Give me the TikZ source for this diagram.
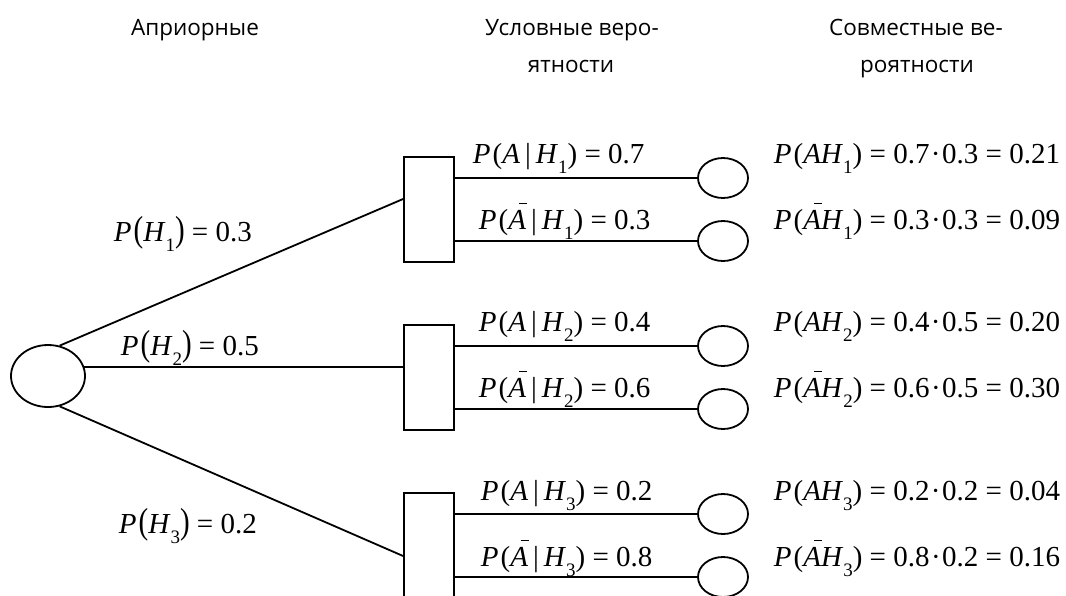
\documentclass[tikz,border=0pt]{standalone}
\usepackage{fontspec}
\usepackage{graphicx}
\setmainfont{Liberation Serif}
\newfontfamily\hdrfont{Open Sans}
\usetikzlibrary{shapes.geometric}
\newcommand{\Pp}{\textit{P}\kern2pt}
\newcommand{\bA}{\makebox[0pt][l]{\kern0.36em\raisebox{0.86em}{\rule{0.3em}{0.045em}}}\textit{A}}
\newcommand{\lsub}[1]{\raisebox{-0.36em}{\fontsize{19pt}{19pt}\selectfont #1}}
\newcommand{\tlp}{\scalebox{1}[1.25]{(}}
\newcommand{\trp}{\scalebox{1}[1.25]{)}}
\newcommand{\vb}{\kern5pt|\kern5pt}
\newcommand{\md}{\kern1.5pt·\kern1.5pt}
\tikzset{
  rootnode/.style={ellipse, draw, minimum width=74pt, minimum height=62pt, inner sep=0pt},
  boxnode/.style={rectangle, draw, minimum width=50pt, minimum height=105pt, inner sep=0pt},
  leafnode/.style={ellipse, draw, minimum width=50pt, minimum height=40pt, inner sep=0pt},
  lbl/.style={anchor=base west, inner sep=0pt, font=\fontsize{29pt}{32pt}\selectfont},
  hdr/.style={anchor=base, inner sep=0pt, font=\hdrfont\fontsize{22.5pt}{26pt}\selectfont}
}
\begin{document}
\begin{tikzpicture}[x=1pt,y=-1pt,line width=1.8pt]
\useasboundingbox (0,0) rectangle (1066,595);
\clip (0,0) rectangle (1066,595);
% headers
\node[hdr] (h1) at (195,35) {Априорные};
\node[hdr] (h2a) at (572,35) {Условные веро-};
\node[hdr] (h2b) at (571,72) {ятности};
\node[hdr] (h3a) at (916,35) {Совместные ве-};
\node[hdr] (h3b) at (917,72) {роятности};
% nodes
\node[rootnode] (r) at (48,376) {};
\node[boxnode] (b1) at (429,209.5) {};
\node[boxnode] (b2) at (429,377.5) {};
\node[boxnode] (b3) at (429,545.5) {};
\node[leafnode] (l1) at (723,178) {};
\node[leafnode] (l2) at (723,241) {};
\node[leafnode] (l3) at (723,346) {};
\node[leafnode] (l4) at (723,409) {};
\node[leafnode] (l5) at (723,514) {};
\node[leafnode] (l6) at (723,577) {};
% edges
\draw (r.69) -- ([yshift=10.5pt]b1.west);
\draw (r.14) -- (r.14 -| b2.west);
\draw (r.-69) -- ([yshift=-10.5pt]b3.west);
\draw (b1.east |- l1) -- (l1);
\draw (b1.east |- l2) -- (l2);
\draw (b2.east |- l3) -- (l3);
\draw (b2.east |- l4) -- (l4);
\draw (b3.east |- l5) -- (l5);
\draw (b3.east |- l6) -- (l6);
% left labels
\node[lbl] (p1) at (113,241) {\Pp\tlp\textit{H}\lsub{1}\trp\ = 0.3};
\node[lbl] (p2) at (120,355) {\Pp\tlp\textit{H}\lsub{2}\trp\ = 0.5};
\node[lbl] (p3) at (118,533) {\Pp\tlp\textit{H}\lsub{3}\trp\ = 0.2};
% branch labels
\node[lbl] (c1) at (472,163) {\Pp(\textit{A}\vb\textit{H}\lsub{1}) = 0.7};
\node[lbl] (c2) at (478,229) {\Pp(\bA\vb\textit{H}\lsub{1}) = 0.3};
\node[lbl] (c3) at (478,331) {\Pp(\textit{A}\vb\textit{H}\lsub{2}) = 0.4};
\node[lbl] (c4) at (478,397) {\Pp(\bA\vb\textit{H}\lsub{2}) = 0.6};
\node[lbl] (c5) at (480,500) {\Pp(\textit{A}\vb\textit{H}\lsub{3}) = 0.2};
\node[lbl] (c6) at (480,566) {\Pp(\bA\vb\textit{H}\lsub{3}) = 0.8};
% joint labels
\node[lbl] (j1) at (773,163) {\Pp(\textit{AH}\lsub{1}) = 0.7\md0.3 = 0.21};
\node[lbl] (j2) at (773,229) {\Pp(\bA\textit{H}\lsub{1}) = 0.3\md0.3 = 0.09};
\node[lbl] (j3) at (773,331) {\Pp(\textit{AH}\lsub{2}) = 0.4\md0.5 = 0.20};
\node[lbl] (j4) at (773,397) {\Pp(\bA\textit{H}\lsub{2}) = 0.6\md0.5 = 0.30};
\node[lbl] (j5) at (773,500) {\Pp(\textit{AH}\lsub{3}) = 0.2\md0.2 = 0.04};
\node[lbl] (j6) at (773,566) {\Pp(\bA\textit{H}\lsub{3}) = 0.8\md0.2 = 0.16};
\end{tikzpicture}
\end{document}
